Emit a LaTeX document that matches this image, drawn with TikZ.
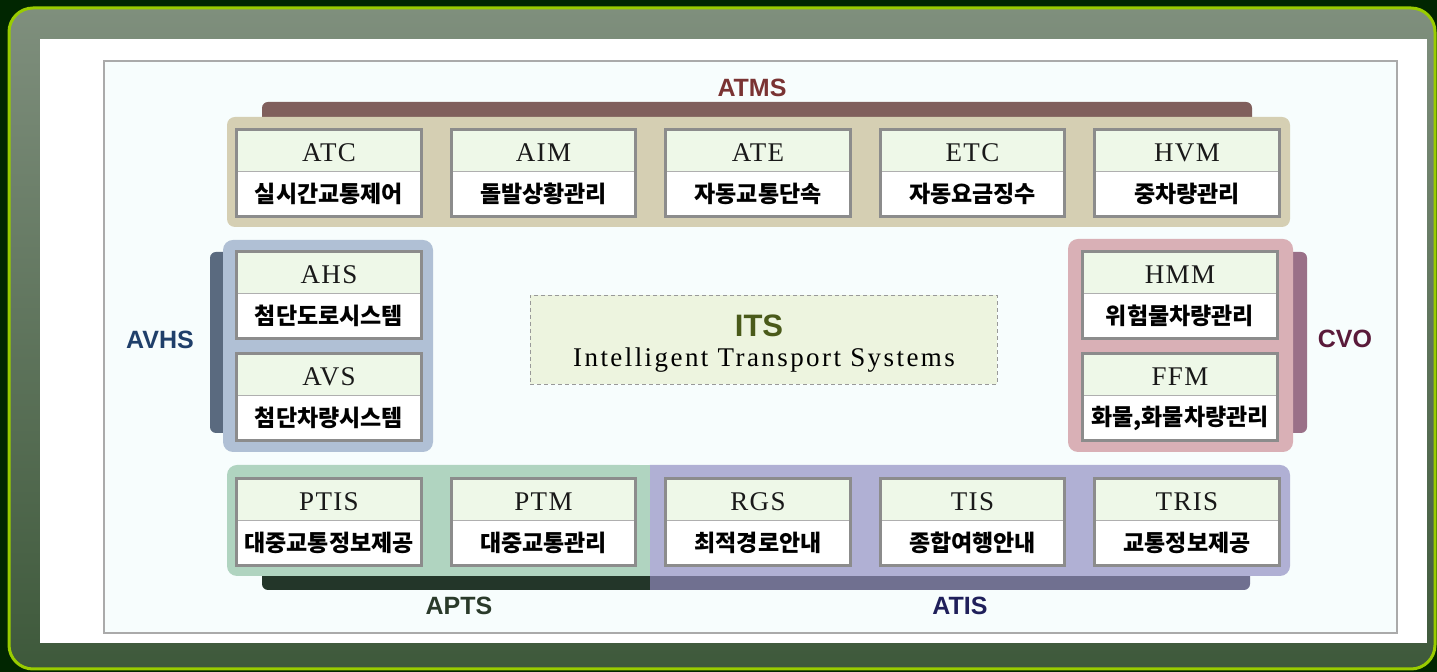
\documentclass[tikz,border=0pt]{standalone}
\usepackage{fontspec}
\setmainfont{Liberation Serif}
\setsansfont{Liberation Sans}
\newfontfamily\korfont{Noto Sans CJK KR}
\newfontfamily\latfont[LetterSpace=5]{Liberation Serif}
\newfontfamily\widefont[LetterSpace=9]{Liberation Serif}
\usetikzlibrary{positioning}
\definecolor{bgdark}{HTML}{012601}
\definecolor{lime}{HTML}{99CC00}
\definecolor{paneltop}{HTML}{7F8F7D}
\definecolor{panelbot}{HTML}{3E593B}
\definecolor{framegray}{HTML}{AAAAAA}
\definecolor{canvas}{HTML}{F7FDFD}
\definecolor{hdr}{HTML}{EEF8E8}
\definecolor{boxline}{HTML}{8C8C8C}
\definecolor{atmsbar}{HTML}{805F5C}
\definecolor{atmsfill}{HTML}{D5CFB3}
\definecolor{atmstxt}{HTML}{7A3333}
\definecolor{avhsbar}{HTML}{5A6A7F}
\definecolor{avhsfill}{HTML}{B0C0D5}
\definecolor{avhstxt}{HTML}{1F3F6A}
\definecolor{cvobar}{HTML}{9A7088}
\definecolor{cvofill}{HTML}{D9B0B6}
\definecolor{cvotxt}{HTML}{5A1A3A}
\definecolor{aptsbar}{HTML}{233629}
\definecolor{aptsfill}{HTML}{B0D4C0}
\definecolor{aptstxt}{HTML}{2A3A2A}
\definecolor{atisbar}{HTML}{707090}
\definecolor{atisfill}{HTML}{B0B0D4}
\definecolor{atistxt}{HTML}{1F1F5A}
\definecolor{itsfill}{HTML}{EDF4DF}
\definecolor{itstxt}{HTML}{4A5A1A}
\tikzset{hd/.style={fill=hdr,minimum width=92pt,minimum height=21pt,inner sep=0pt,text height=11pt,text=black!90,font=\latfont\fontsize{13.5}{13.5}\selectfont},bd/.style={fill=white,minimum width=92pt,minimum height=22pt,inner sep=0pt,font=\korfont\bfseries\fontsize{11.5}{11.5}\selectfont},frm/.style={draw=boxline,line width=1.5pt},sep/.style={draw=boxline!70,line width=.5pt},grp/.style={font=\sffamily\bfseries\fontsize{12.5}{13}\selectfont}}

\begin{document}
\begin{tikzpicture}[x=0.5pt,y=-0.5pt]
\useasboundingbox (0,0) rectangle (1437,672);
\fill[bgdark] (0,0) rectangle (1437,672);
\draw[lime,line width=1.5pt,top color=paneltop,bottom color=panelbot,rounded corners=12pt] (9,8) rectangle (1435,669);
\fill[white] (40,39) rectangle (1427,643);
\draw[framegray,fill=canvas,line width=1pt] (104,61) rectangle (1397,633);
\fill[atmsbar,rounded corners=3pt] (262,102) rectangle (1252,130);
\fill[atmsfill,rounded corners=4pt] (227,117) rectangle (1290,227);
\fill[avhsbar,rounded corners=3pt] (210,252) rectangle (240,433);
\fill[avhsfill,rounded corners=5pt] (223,240) rectangle (433,452);
\fill[cvobar,rounded corners=3pt] (1270,252) rectangle (1307,433);
\fill[cvofill,rounded corners=5pt] (1068,239) rectangle (1293,452);
\fill[atisbar,rounded corners=3pt] (620,560) rectangle (1250,590);
\fill[aptsbar,rounded corners=3pt] (262,560) rectangle (640,590);
\fill[aptsbar] (600,560) rectangle (650,590);
\fill[atisfill,rounded corners=5pt] (640,465) rectangle (1290,576);
\fill[aptsfill,rounded corners=5pt] (227,465) rectangle (640,576);
\fill[aptsfill] (600,465) rectangle (650,576);
\node[grp,text=atmstxt] (atms) at (752,88) {ATMS};
\node[grp,text=avhstxt] (avhs) at (160,340) {AVHS};
\node[grp,text=cvotxt] (cvo) at (1345,339) {CVO};
\node[grp,text=aptstxt] (apts) at (459,606) {APTS};
\node[grp,text=atistxt] (atis) at (960,606) {ATIS};
\node[draw=gray!80,dash pattern=on 2pt off 1.5pt,fill=itsfill,minimum width=233.5pt,minimum height=44.5pt] (its) at (763.5,339.5) {};
\node[text=itstxt,font=\sffamily\bfseries\fontsize{15.5}{16}\selectfont] (itsname) at (759,326) {ITS};
\node[font=\widefont\fontsize{13.5}{14}\selectfont] (itsfull) at (764,360) {Intelligent Transport Systems};
\foreach \n/\x/\y/\a/\k in {atc/329/150.5/ATC/실시간교통제어,aim/543.5/150.5/AIM/돌발상황관리,ate/758/150.5/ATE/자동교통단속,etc/972.5/150.5/ETC/자동요금징수,hvm/1187/150.5/HVM/중차량관리,ahs/329/272.5/AHS/첨단도로시스템,avs/329/374.5/AVS/첨단차량시스템,ptis/329/499.5/PTIS/대중교통정보제공,ptm/543.5/499.5/PTM/대중교통관리,rgs/758/499.5/RGS/최적경로안내,tis/972.5/499.5/TIS/종합여행안내,tris/1187/499.5/TRIS/교통정보제공}{\node[hd] (\n) at (\x,\y) {\a};\node[bd,below=0pt of \n] (\n-k) {\k};\draw[sep] (\n.south west)--(\n.south east);\draw[frm] (\n.north west) rectangle (\n-k.south east);}
\foreach \n/\y/\a/\k in {hmm/272.5/HMM/위험물차량관리,ffm/374.5/FFM/{화물,화물차량관리}}{\node[hd,minimum width=97.5pt] (\n) at (1180,\y) {\a};\node[bd,minimum width=97.5pt,below=0pt of \n] (\n-k) {\k};\draw[sep] (\n.south west)--(\n.south east);\draw[frm] (\n.north west) rectangle (\n-k.south east);}
\end{tikzpicture}
\end{document}
